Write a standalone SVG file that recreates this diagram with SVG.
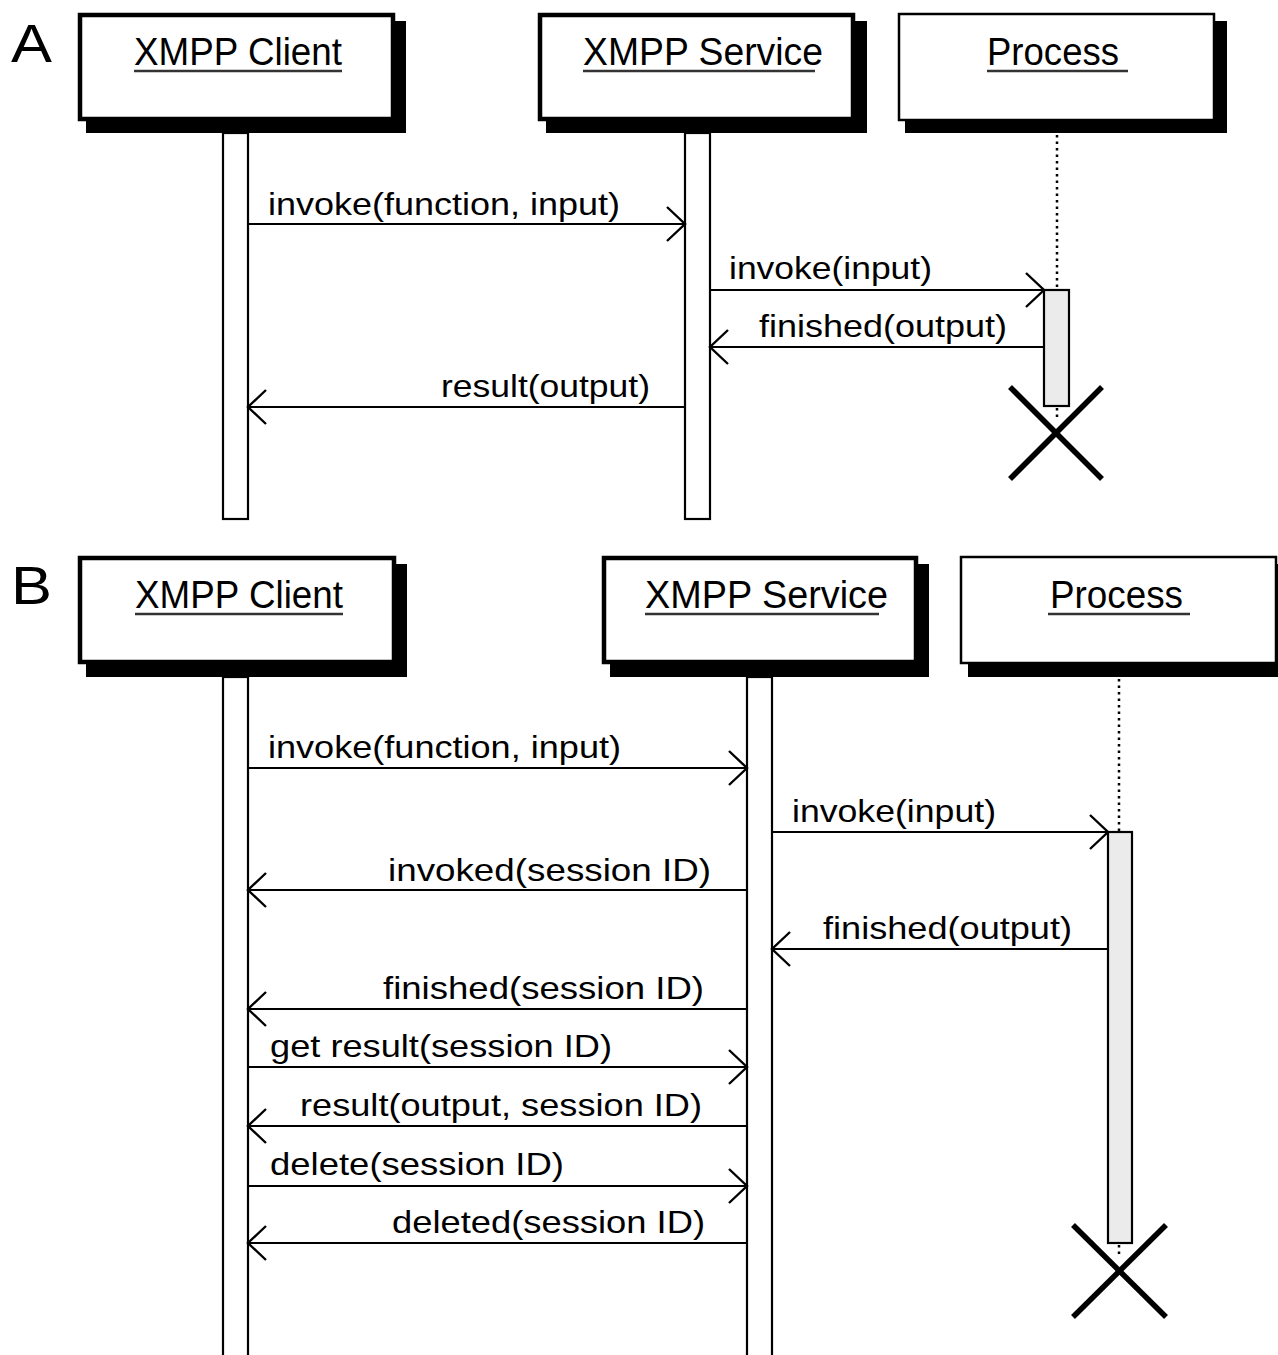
<svg xmlns="http://www.w3.org/2000/svg" width="1278" height="1355" viewBox="0 0 1278 1355">
<style>
text{font-family:"Liberation Sans",Arial,sans-serif;fill:#000}
.hdr{font-size:39px}
.msg{font-size:32px}
.lbl{font-size:54px}
.box{fill:#fff;stroke:#000;stroke-width:4.5}
.pbox{fill:#fff;stroke:#000;stroke-width:2.5}
.shadow{fill:#000}
.ul{stroke:#333;stroke-width:2.5}
.life{fill:#fff;stroke:#000;stroke-width:2.2}
.act{fill:#ebebeb;stroke:#000;stroke-width:2.2}
.dot{stroke:#000;stroke-width:2.5;stroke-dasharray:2.5 4}
.x{stroke:#000;stroke-width:5.5}
.m{stroke:#000;stroke-width:2.2;fill:none;marker-end:url(#arr)}
</style>
<defs>
<marker id="arr" viewBox="-22 -20 24 40" markerWidth="24" markerHeight="40" refX="0" refY="0" orient="auto" markerUnits="userSpaceOnUse">
<path d="M -18 -17 L 0 0 L -18 17" fill="none" stroke="#000" stroke-width="2.4"/>
</marker>
</defs>
<rect width="1278" height="1355" fill="#fff"/>

<text class="lbl" x="11" y="62" textLength="41" lengthAdjust="spacingAndGlyphs">A</text>
<text class="lbl" x="11" y="604" textLength="41" lengthAdjust="spacingAndGlyphs">B</text>

<!-- Part A -->
<g id="a-client">
<rect class="shadow" x="86" y="21" width="320" height="112"/>
<rect class="box" x="80" y="15" width="313" height="104"/>
<text class="hdr" x="134" y="65" textLength="208" lengthAdjust="spacingAndGlyphs">XMPP Client</text>
<line class="ul" x1="134" y1="71" x2="342" y2="71"/>
<rect class="life" x="223" y="133" width="25" height="386"/>
</g>
<g id="a-service">
<rect class="shadow" x="546" y="21" width="321" height="112"/>
<rect class="box" x="540" y="15" width="313" height="104"/>
<text class="hdr" x="583" y="65" textLength="240" lengthAdjust="spacingAndGlyphs">XMPP Service</text>
<line class="ul" x1="583" y1="71" x2="815" y2="71"/>
<rect class="life" x="685" y="133" width="25" height="386"/>
</g>
<g id="a-process">
<rect class="shadow" x="905" y="21" width="322" height="112"/>
<rect class="pbox" x="899" y="14" width="315" height="106"/>
<text class="hdr" x="987" y="65" textLength="132" lengthAdjust="spacingAndGlyphs">Process</text>
<line class="ul" x1="987" y1="71" x2="1128" y2="71"/>
<line class="dot" x1="1057" y1="135" x2="1057" y2="289"/>
<line class="dot" x1="1057" y1="408" x2="1057" y2="420"/>
<rect class="act" x="1044" y="290" width="25" height="116"/>
<line class="x" x1="1010" y1="387" x2="1102" y2="479"/>
<line class="x" x1="1102" y1="387" x2="1010" y2="479"/>
</g>

<!-- Part B -->
<g id="b-client">
<rect class="shadow" x="86" y="564" width="321" height="113"/>
<rect class="box" x="80" y="558" width="314" height="104"/>
<text class="hdr" x="135" y="608" textLength="208" lengthAdjust="spacingAndGlyphs">XMPP Client</text>
<line class="ul" x1="135" y1="614" x2="343" y2="614"/>
<rect class="life" x="223" y="677" width="25" height="690"/>
</g>
<g id="b-service">
<rect class="shadow" x="610" y="564" width="319" height="113"/>
<rect class="box" x="604" y="558" width="312" height="104"/>
<text class="hdr" x="645" y="608" textLength="243" lengthAdjust="spacingAndGlyphs">XMPP Service</text>
<line class="ul" x1="645" y1="614" x2="879" y2="614"/>
<rect class="life" x="747" y="677" width="25" height="690"/>
</g>
<g id="b-process">
<rect class="shadow" x="968" y="564" width="312" height="113"/>
<rect class="pbox" x="961" y="557" width="315" height="106"/>
<text class="hdr" x="1050" y="608" textLength="133" lengthAdjust="spacingAndGlyphs">Process</text>
<line class="ul" x1="1048" y1="614" x2="1190" y2="614"/>
<line class="dot" x1="1119" y1="679" x2="1119" y2="832"/>
<line class="dot" x1="1119" y1="1245" x2="1119" y2="1258"/>
<rect class="act" x="1108" y="832" width="24" height="411"/>
<line class="x" x1="1073" y1="1225" x2="1166" y2="1317"/>
<line class="x" x1="1166" y1="1225" x2="1073" y2="1317"/>
</g>

<g id="connectors">
<line class="m" x1="248" y1="224" x2="685" y2="224"/>
<text class="msg" x="268" y="215" textLength="352" lengthAdjust="spacingAndGlyphs">invoke(function, input)</text>
<line class="m" x1="710" y1="290" x2="1044" y2="290"/>
<text class="msg" x="729" y="279" textLength="203" lengthAdjust="spacingAndGlyphs">invoke(input)</text>
<line class="m" x1="1044" y1="347" x2="710" y2="347"/>
<text class="msg" x="759" y="337" textLength="248" lengthAdjust="spacingAndGlyphs">finished(output)</text>
<line class="m" x1="685" y1="407" x2="248" y2="407"/>
<text class="msg" x="441" y="397" textLength="209" lengthAdjust="spacingAndGlyphs">result(output)</text>

<line class="m" x1="248" y1="768" x2="747" y2="768"/>
<text class="msg" x="268" y="758" textLength="353" lengthAdjust="spacingAndGlyphs">invoke(function, input)</text>
<line class="m" x1="772" y1="832" x2="1108" y2="832"/>
<text class="msg" x="792" y="822" textLength="204" lengthAdjust="spacingAndGlyphs">invoke(input)</text>
<line class="m" x1="747" y1="890" x2="248" y2="890"/>
<text class="msg" x="388" y="881" textLength="323" lengthAdjust="spacingAndGlyphs">invoked(session ID)</text>
<line class="m" x1="1108" y1="949" x2="772" y2="949"/>
<text class="msg" x="823" y="939" textLength="249" lengthAdjust="spacingAndGlyphs">finished(output)</text>
<line class="m" x1="747" y1="1009" x2="248" y2="1009"/>
<text class="msg" x="383" y="999" textLength="321" lengthAdjust="spacingAndGlyphs">finished(session ID)</text>
<line class="m" x1="248" y1="1067" x2="747" y2="1067"/>
<text class="msg" x="270" y="1057" textLength="342" lengthAdjust="spacingAndGlyphs">get result(session ID)</text>
<line class="m" x1="747" y1="1126" x2="248" y2="1126"/>
<text class="msg" x="300" y="1116" textLength="402" lengthAdjust="spacingAndGlyphs">result(output, session ID)</text>
<line class="m" x1="248" y1="1186" x2="747" y2="1186"/>
<text class="msg" x="270" y="1175" textLength="294" lengthAdjust="spacingAndGlyphs">delete(session ID)</text>
<line class="m" x1="747" y1="1243" x2="248" y2="1243"/>
<text class="msg" x="392" y="1233" textLength="313" lengthAdjust="spacingAndGlyphs">deleted(session ID)</text>
</g>
</svg>
